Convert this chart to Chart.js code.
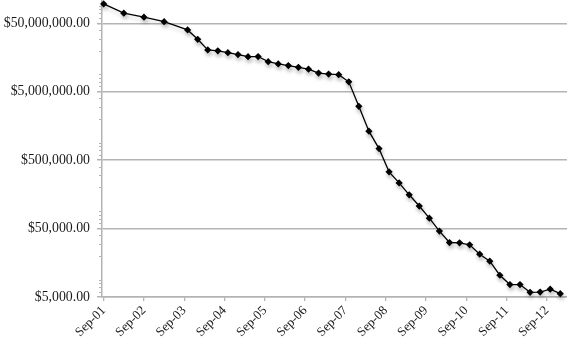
<!DOCTYPE html>
<html>
<head>
<meta charset="utf-8">
<script src="https://cdn.jsdelivr.net/npm/chart.js@4/dist/chart.umd.min.js"></script>
<style>
  html, body { margin: 0; padding: 0; background: #fff; }
  #wrap { width: 567px; height: 345px; }
</style>
</head>
<body>
<div id="wrap"><canvas id="graph1"></canvas></div>
<script>
// dates of the points (year-month)
const dates = ['2001-09','2002-03','2002-09','2003-03',
  '2003-10','2004-01','2004-04','2004-07','2004-10',
  '2005-01','2005-04','2005-07','2005-10',
  '2006-01','2006-04','2006-07','2006-10',
  '2007-01','2007-04','2007-07','2007-10',
  '2008-01','2008-04','2008-07','2008-10',
  '2009-01','2009-04','2009-07','2009-10',
  '2010-01','2010-04','2010-07','2010-10',
  '2011-01','2011-04','2011-07','2011-10',
  '2012-01','2012-04','2012-07','2012-10',
  '2013-01'];
const values = [96400000, 70500000, 61600000, 53100000,
  40200000, 29300000, 20500000, 19900000, 18700000,
  17500000, 16300000, 16400000, 13800000,
  12800000, 12100000, 11400000, 10700000,
  9400000, 9100000, 8900000, 7000000,
  3070000, 1330000, 739000, 338000,
  233000, 156000, 107000, 71000,
  46000, 31300, 31000, 29000,
  21100, 16700, 10400, 7600,
  7600, 5860, 5900, 6500,
  5600];
const xTickLabels = ['Sep-01','Sep-02','Sep-03','Sep-04','Sep-05','Sep-06',
  'Sep-07','Sep-08','Sep-09','Sep-10','Sep-11','Sep-12'];
const yTicks = [5000, 50000, 500000, 5000000, 50000000];

// months since Sep-01
function monthIndex(d) {
  let p = d.split('-');
  return (parseInt(p[0]) - 2001) * 12 + parseInt(p[1]) - 9;
}
const points = dates.map((d, i) => ({ x: monthIndex(d), y: values[i] }));

function money(v) {
  let s = Math.round(v).toString().replace(/\B(?=(\d{3})+(?!\d))/g, ',');
  return '$' + s + '.00';
}

const fontSerif = "'Liberation Serif', 'DejaVu Serif', serif";
const axisGray = '#b4b4b4';

// small log ticks on the left of the value axis + soft line shadow
const extras = {
  id: 'extras',
  beforeDatasetsDraw(chart) {
    let ctx = chart.ctx;
    ctx.save();
    ctx.shadowColor = 'rgba(0,0,0,0.22)';
    ctx.shadowBlur = 4;
    ctx.shadowOffsetX = 1;
    ctx.shadowOffsetY = 3;
  },
  afterDatasetsDraw(chart) {
    chart.ctx.restore();
  },
  afterDraw(chart) {
    let ctx = chart.ctx;
    let y = chart.scales.y;
    let left = chart.chartArea.left;
    ctx.save();
    ctx.strokeStyle = axisGray;
    ctx.lineWidth = 1;
    for (let dec = 1000; dec <= 100000000; dec *= 10) {
      for (let m = 2; m <= 9; m++) {
        let v = dec * m;
        if (v <= y.min || v >= y.max || yTicks.includes(v)) continue;
        let py = Math.round(y.getPixelForValue(v)) + 0.5;
        ctx.beginPath();
        ctx.moveTo(left - 3, py);
        ctx.lineTo(left, py);
        ctx.stroke();
      }
    }
    ctx.restore();
  }
};

const config1 = {
  type: 'line',
  data: {
    datasets: [{
      data: points,
      borderColor: '#000',
      backgroundColor: '#000',
      borderWidth: 1.3,
      pointStyle: 'rectRot',
      pointRadius: 2.7,
      pointHoverRadius: 2.7,
      tension: 0,
      clip: false
    }]
  },
  options: {
    responsive: false,
    animation: false,
    events: [],
    layout: { padding: 0, autoPadding: false },
    plugins: {
      legend: { display: false },
      tooltip: { enabled: false }
    },
    scales: {
      x: {
        type: 'linear',
        min: -0.5,
        max: 138,
        afterBuildTicks: (scale) => {
          scale.ticks = xTickLabels.map((t, i) => ({ value: i * 12 }));
        },
        afterFit: (scale) => {
          scale.height = 48;
          scale.paddingLeft = 0;
          scale.paddingRight = 0;
        },
        grid: { drawOnChartArea: false, drawTicks: true, tickLength: 4, color: axisGray, lineWidth: 1.3 },
        border: { display: true, color: axisGray, width: 1.5 },
        ticks: {
          autoSkip: false,
          minRotation: 45,
          maxRotation: 45,
          padding: 2,
          color: '#1a1a1a',
          font: { family: fontSerif, size: 13 },
          callback: (v) => xTickLabels[v / 12]
        }
      },
      y: {
        type: 'logarithmic',
        min: 5000,
        max: 110000000,
        afterBuildTicks: (scale) => {
          scale.ticks = yTicks.map(v => ({ value: v }));
        },
        afterFit: (scale) => {
          scale.width = 102;
          scale.paddingTop = 0;
          scale.paddingBottom = 0;
        },
        grid: { drawTicks: true, tickLength: 5, color: axisGray, lineWidth: 1.5 },
        border: { display: true, color: axisGray, width: 1.5 },
        ticks: {
          padding: 7,
          color: '#1a1a1a',
          font: { family: fontSerif, size: 13.8 },
          callback: (v) => money(v)
        }
      }
    }
  },
  plugins: [extras]
};

let canvas1 = document.getElementById('graph1');
canvas1.width = 567;
canvas1.height = 345;
let graph1Visible = new Chart(canvas1, config1);
</script>
</body>
</html>
